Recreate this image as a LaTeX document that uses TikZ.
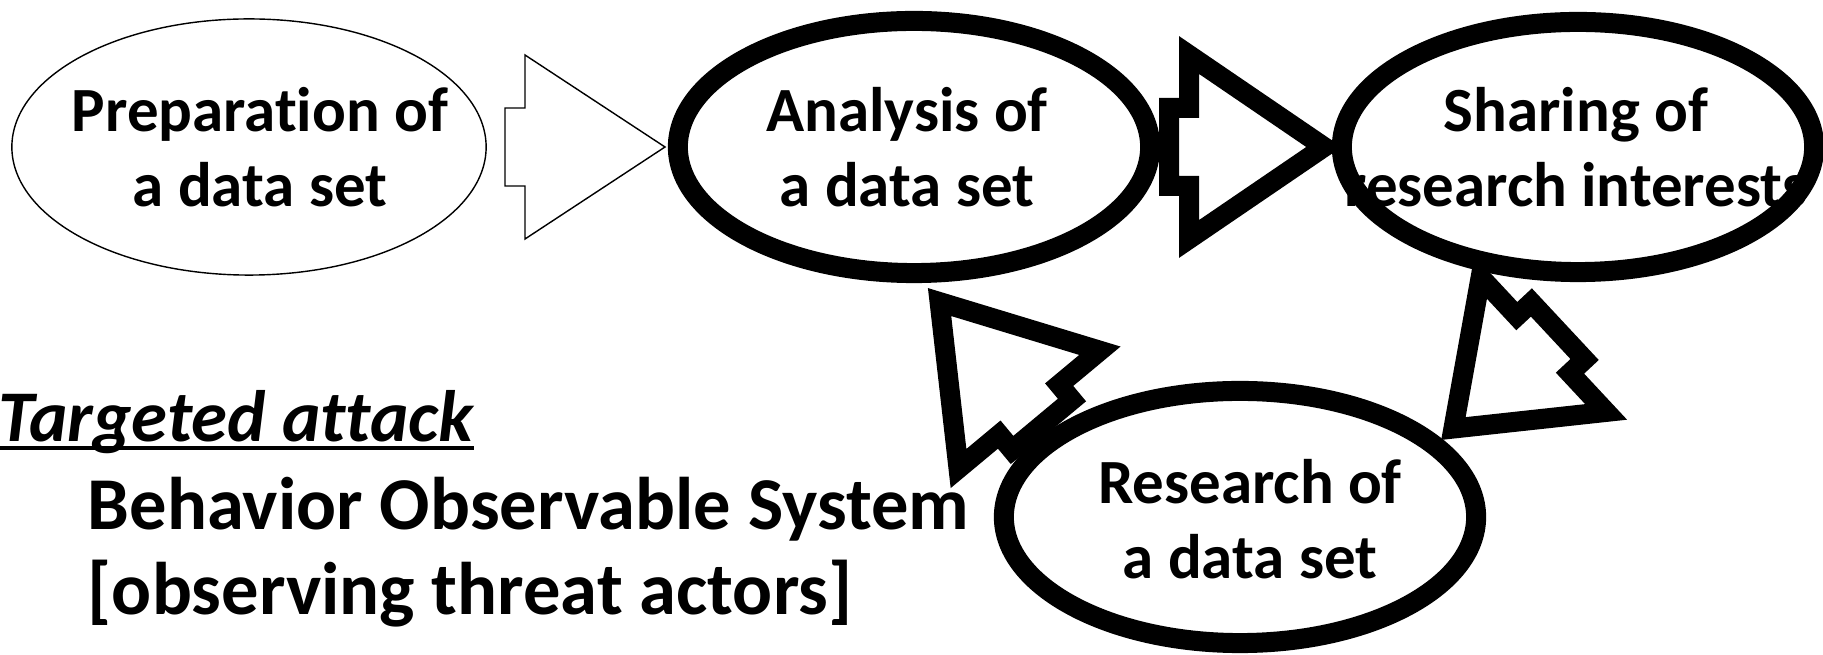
\documentclass[tikz,border=0pt]{standalone}
\usepackage{fontspec}
\setmainfont{Carlito}
\usetikzlibrary{shapes.geometric}

\begin{document}
\begin{tikzpicture}[x=0.01cm, y=-0.01cm,
  oval/.style={ellipse, draw, inner sep=0pt, minimum width=4.72cm, minimum height=2.52cm},
  heavy/.style={line width=0.2cm},
  light/.style={line width=0.4pt},
  txt/.style={align=center, inner sep=0pt, font=\fontsize{17.9}{21.2}\selectfont\bfseries},
  big/.style={anchor=base west, inner sep=0pt, font=\fontsize{21.2}{24.6}\selectfont\bfseries}]
  \useasboundingbox (0,0) rectangle (1823,655);
  % the four steps
  \node[oval, light, minimum width=4.74cm, minimum height=2.56cm] (prep) at (249,147) {};
  \node[oval, heavy] (anal) at (914,147) {};
  \node[oval, heavy, minimum height=2.5cm] (share) at (1578,147) {};
  \node[oval, heavy] (res) at (1240,517) {};
  % (\kern0pt keeps t+i and t+t apart, as in the slide)
  \node[txt] (preptxt) at (260,147) {Preparat\kern0pt ion of\\a data set};
  \node[txt] (analtxt) at (907,147) {Analysis of\\a data set};
  \node[txt] (sharetxt) at (1576,147) {Sharing of\\research interests};
  \node[txt] (restxt) at (1250,519) {Research of\\a data set};
  % block arrows between the steps
  \foreach \x/\y/\a/\h/\s in {505/147/0/140/light, 1169/147/0/135/heavy,
      1042/425/129.8/140/heavy, 1558/331/223/123/heavy}
    \draw[\s, shift={(\x,\y)}, rotate=\a] (0,-39) -- (20,-39) -- (20,-92) -- (20+\h,0)
      -- (20,92) -- (20,39) -- (0,39) -- cycle;
  % caption
  \node[big, font=\fontsize{20.7}{24}\selectfont\bfseries\itshape] (target) at (-2,442) {Targeted at\kern0pt tack};
  \draw[line width=0.04cm] ([yshift=-0.06cm]target.base west) -- ([yshift=-0.06cm]target.base east);
  \node[big] (bos) at (87,530) {Behavior Observable System};
  \node[big] (obs) at (87,615) {[observing threat actors]};
\end{tikzpicture}
\end{document}
